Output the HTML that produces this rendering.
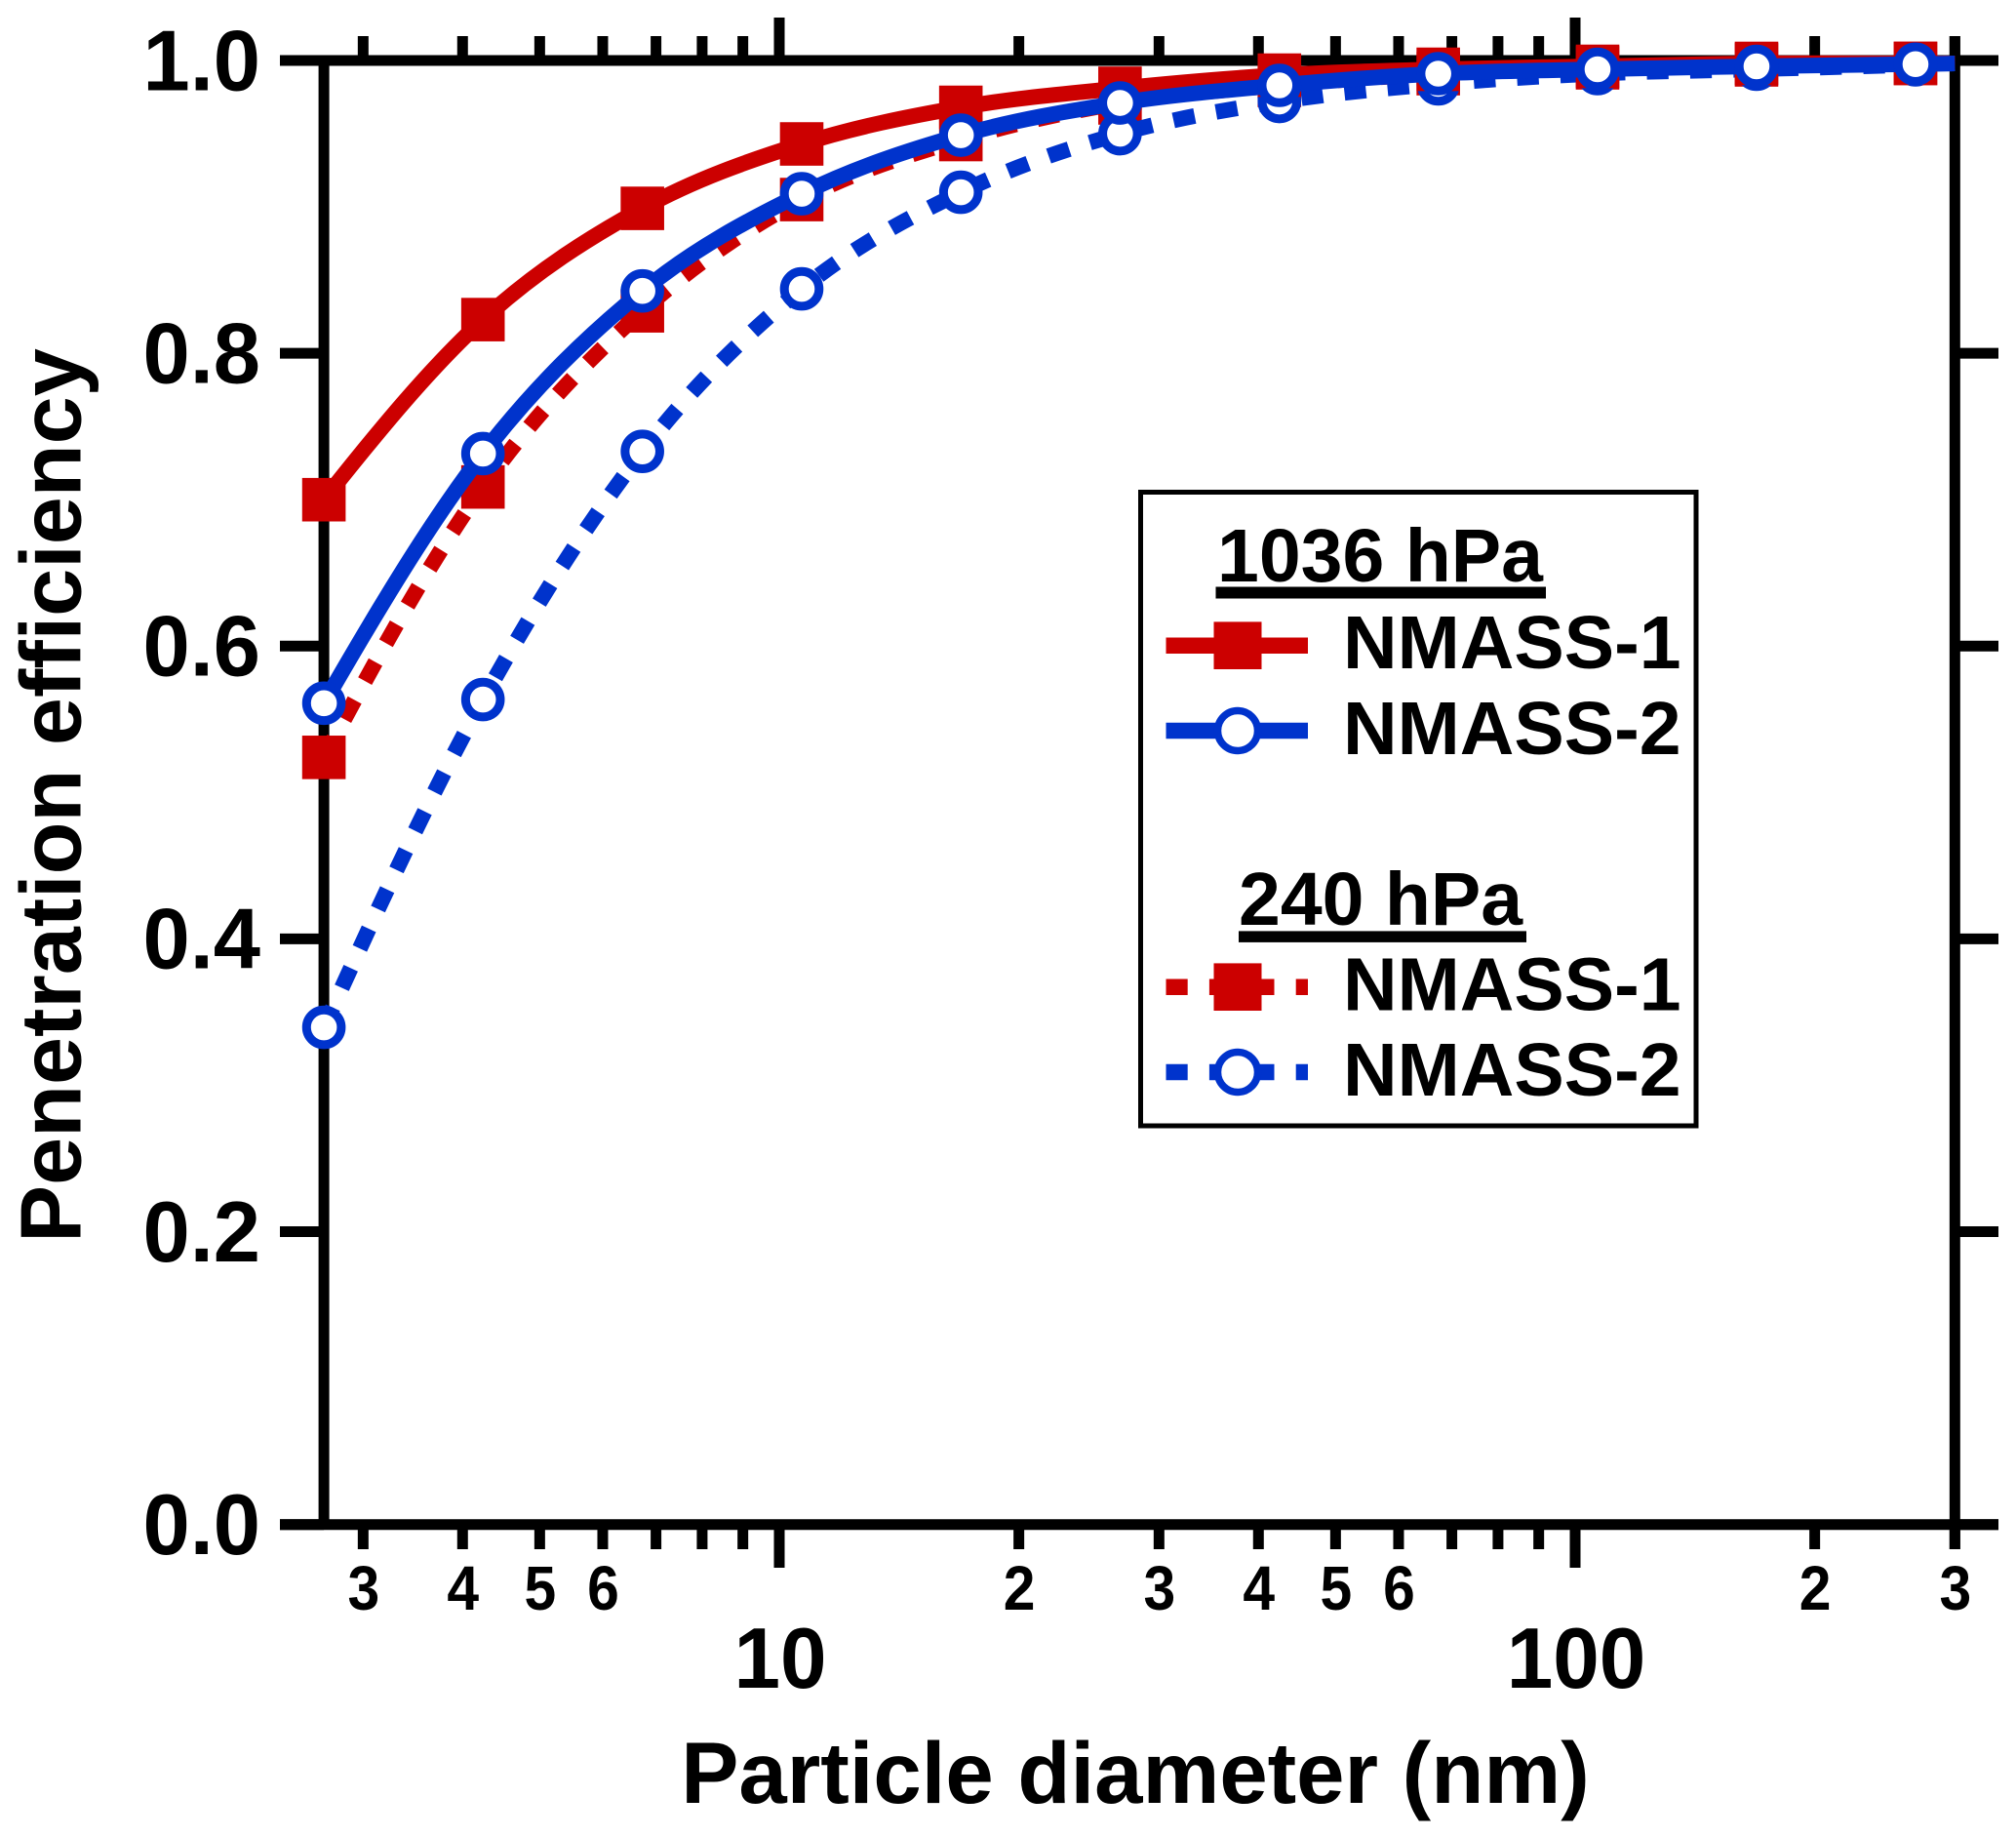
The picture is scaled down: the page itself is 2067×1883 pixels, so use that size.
<!DOCTYPE html>
<html>
<head>
<meta charset="utf-8">
<title>Penetration efficiency vs particle diameter</title>
<style>
html,body{margin:0;padding:0;background:#fff;}
svg{display:block;}
text{font-family:"Liberation Sans",Arial,sans-serif;font-weight:bold;fill:#000;}
</style>
</head>
<body>
<svg id="chart" xmlns="http://www.w3.org/2000/svg" width="2067" height="1883" viewBox="0 0 2067 1883">
  <rect x="0" y="0" width="2067" height="1883" fill="#fff"/>
  <g id="axes"></g>
  <g id="series"></g>
  <text x="1164" y="1848" font-size="88.7" text-anchor="middle">Particle diameter (nm)</text>
  <text transform="translate(82.5,815.5) rotate(-90)" font-size="88.2" text-anchor="middle">Penetration efficiency</text>

  <g>
    <rect x="1169.5" y="504.5" width="569.5" height="649.5" fill="#fff" stroke="#000" stroke-width="5"/>
    <text x="1248" y="596" font-size="77">1036 hPa</text>
    <rect x="1246.5" y="601.5" width="338.5" height="12" fill="#000"/>
    <g>
      <line x1="1195.5" x2="1341" y1="661.7" y2="661.7" stroke="#CC0000" stroke-width="16.5"/>
      <rect x="1244.5" y="637.4" width="49" height="48.6" fill="#CC0000"/>
      <text x="1377" y="685" font-size="77">NMASS-1</text>
    </g>
    <g>
      <line x1="1195.5" x2="1341" y1="749" y2="749" stroke="#0033CC" stroke-width="16.5"/>
      <circle cx="1269" cy="749" r="20.5" fill="#fff" stroke="#0033CC" stroke-width="7.5"/>
      <text x="1377" y="773" font-size="77">NMASS-2</text>
    </g>
    <text x="1270" y="948" font-size="77">240 hPa</text>
    <rect x="1270" y="954.4" width="295" height="11.5" fill="#000"/>
    <g>
      <line x1="1195.5" x2="1341" y1="1011.7" y2="1011.7" stroke="#CC0000" stroke-width="16.5" stroke-dasharray="22.2 22.2"/>
      <rect x="1244.5" y="987.4" width="49" height="48.6" fill="#CC0000"/>
      <text x="1377" y="1035.5" font-size="77">NMASS-1</text>
    </g>
    <g>
      <line x1="1195.5" x2="1341" y1="1099" y2="1099" stroke="#0033CC" stroke-width="16.5" stroke-dasharray="22.2 22.2"/>
      <circle cx="1269" cy="1099" r="20.5" fill="#fff" stroke="#0033CC" stroke-width="7.5"/>
      <text x="1377" y="1123" font-size="77">NMASS-2</text>
    </g>
  </g>
</svg>
<script>
// Data arrays
var diameters = [2.678, 4.243, 6.73, 10.67, 16.91, 26.8, 42.5, 67.3, 106.7, 169, 267.7, 300];
var nmass1At1036 = [0.700, 0.823, 0.899, 0.943, 0.968, 0.981, 0.990, 0.994, 0.996, 0.998, 0.998, 0.998];
var nmass2At1036 = [0.561, 0.7315, 0.8426, 0.909, 0.949, 0.971, 0.983, 0.991, 0.994, 0.996, 0.9975, 0.998];
var nmass1At240 = [0.524, 0.7087, 0.829, 0.905, 0.946, 0.971, 0.983, 0.991, 0.995, 0.997, 0.998, 0.998];
var nmass2At240 = [0.3396, 0.5635, 0.733, 0.844, 0.910, 0.950, 0.972, 0.984, 0.991, 0.994, 0.997, 0.998];
var markerCount = 11;
var yTicks = [0.0, 0.2, 0.4, 0.6, 0.8, 1.0];
var yTickLabels = ["0.0", "0.2", "0.4", "0.6", "0.8", "1.0"];
var xMinorTicks = [3, 4, 5, 6, 7, 8, 9, 20, 30, 40, 50, 60, 70, 80, 90, 200, 300];
var xMajorTicks = [10, 100];
var xMajorLabels = ["10", "100"];
var xMinorLabelValues = [3, 4, 5, 6, 20, 30, 40, 50, 60, 200, 300];
var xMinorLabels = ["3", "4", "5", "6", "2", "3", "4", "5", "6", "2", "3"];

// Axis functions
function xScale(d) { return 799 + 816 * (Math.log(d) / Math.LN10 - 1); }
function yScale(v) { return 1562.7 - 1500.7 * v; }

var NS = "http://www.w3.org/2000/svg";
var axes = document.getElementById("axes");
var seriesLayer = document.getElementById("series");

function make(tag, parent, attrs) {
  var el = document.createElementNS(NS, tag);
  for (var k in attrs) { el.setAttribute(k, attrs[k]); }
  parent.appendChild(el);
  return el;
}
function blackLine(x1, y1, x2, y2) {
  return make("line", axes, {x1: x1, y1: y1, x2: x2, y2: y2, stroke: "#000", "stroke-width": 11});
}

var left = xScale(2.678), right = xScale(300), top0 = yScale(1), bottom0 = yScale(0);

var el;
el = blackLine(left, top0, left, bottom0);


el = blackLine(right, 37, right, 1588);


el = blackLine(287, top0, 2049, top0);


el = blackLine(287, bottom0, 2049, bottom0);



yTicks.forEach(function (v, i) {
  var y = yScale(v);
  var t = blackLine(287, y, left, y);
  
  
  var r = blackLine(right, y, 2049, y);
  
  
  var label = make("text", axes, {x: 267, y: y + 30.3, "font-size": 88, "text-anchor": "end", textLength: 120.5, lengthAdjust: "spacingAndGlyphs"});
  label.textContent = yTickLabels[i];
  
  
});

xMinorTicks.forEach(function (d) {
  var x = xScale(d);
  var b = blackLine(x, bottom0, x, 1588);
  
  
  var t = blackLine(x, 37, x, top0);
  
  
});

xMajorTicks.forEach(function (d, i) {
  var x = xScale(d);
  var b = blackLine(x, bottom0, x, 1607);
  
  
  var t = blackLine(x, 18, x, top0);
  
  
  var label = make("text", axes, {x: x + 1, y: 1730, "font-size": 88, "text-anchor": "middle", textLength: xMajorLabels[i].length * 47.5, lengthAdjust: "spacingAndGlyphs"});
  label.textContent = xMajorLabels[i];
  
  
});

xMinorLabelValues.forEach(function (d, i) {
  var label = make("text", axes, {x: xScale(d) + 0.5, y: 1650, "font-size": 64, "text-anchor": "middle", textLength: 32.7, lengthAdjust: "spacingAndGlyphs"});
  label.textContent = xMinorLabels[i];
  
  
});

// Smooth path through data points
function curvePath(values) {
  var pts = values.map(function (v, i) { return [xScale(diameters[i]), yScale(v)]; });
  var d = "M" + pts[0][0].toFixed(2) + " " + pts[0][1].toFixed(2);
  // Virtual leading neighbour: partial quadratic extrapolation for the first segment's slope
  var bend = 0.6;
  var lead = [2 * pts[0][0] - pts[1][0] + bend * (pts[0][0] - 2 * pts[1][0] + pts[2][0]),
              2 * pts[0][1] - pts[1][1] + bend * (pts[0][1] - 2 * pts[1][1] + pts[2][1])];
  for (var i = 0; i < pts.length - 1; i++) {
    var p0 = i === 0 ? lead : pts[i - 1], p1 = pts[i], p2 = pts[i + 1], p3 = pts[Math.min(i + 2, pts.length - 1)];
    var c1x = p1[0] + (p2[0] - p0[0]) / 6, c1y = p1[1] + (p2[1] - p0[1]) / 6;
    var c2x = p2[0] - (p3[0] - p1[0]) / 6, c2y = p2[1] - (p3[1] - p1[1]) / 6;
    d += "C" + c1x.toFixed(2) + " " + c1y.toFixed(2) + " " + c2x.toFixed(2) + " " + c2y.toFixed(2) + " " + p2[0].toFixed(2) + " " + p2[1].toFixed(2);
  }
  return d;
}

function drawLine(values, color, dashed) {
  var attrs = {d: curvePath(values), fill: "none", stroke: color, "stroke-width": 16};
  if (dashed) { attrs["stroke-dasharray"] = "22.2 22.2"; }
  return make("path", seriesLayer, attrs);
}
function drawSquares(values, color) {
  for (var i = 0; i < markerCount; i++) {
    var m = make("rect", seriesLayer, {x: xScale(diameters[i]) - 22.3, y: yScale(values[i]) - 22.3, width: 44.6, height: 44.6, fill: color});
    
    
  }
}
function drawCircles(values, color) {
  for (var i = 0; i < markerCount; i++) {
    var m = make("circle", seriesLayer, {cx: xScale(diameters[i]), cy: yScale(values[i]), r: 17.8, fill: "#fff", stroke: color, "stroke-width": 9});
    
    
  }
}

var RED = "#CC0000", BLUE = "#0033CC";
var l;
l = drawLine(nmass1At240, RED, true);


drawSquares(nmass1At240, RED);
l = drawLine(nmass2At240, BLUE, true);


drawCircles(nmass2At240, BLUE);
l = drawLine(nmass1At1036, RED, false);


drawSquares(nmass1At1036, RED);
l = drawLine(nmass2At1036, BLUE, false);


drawCircles(nmass2At1036, BLUE);
</script>
</body>
</html>
